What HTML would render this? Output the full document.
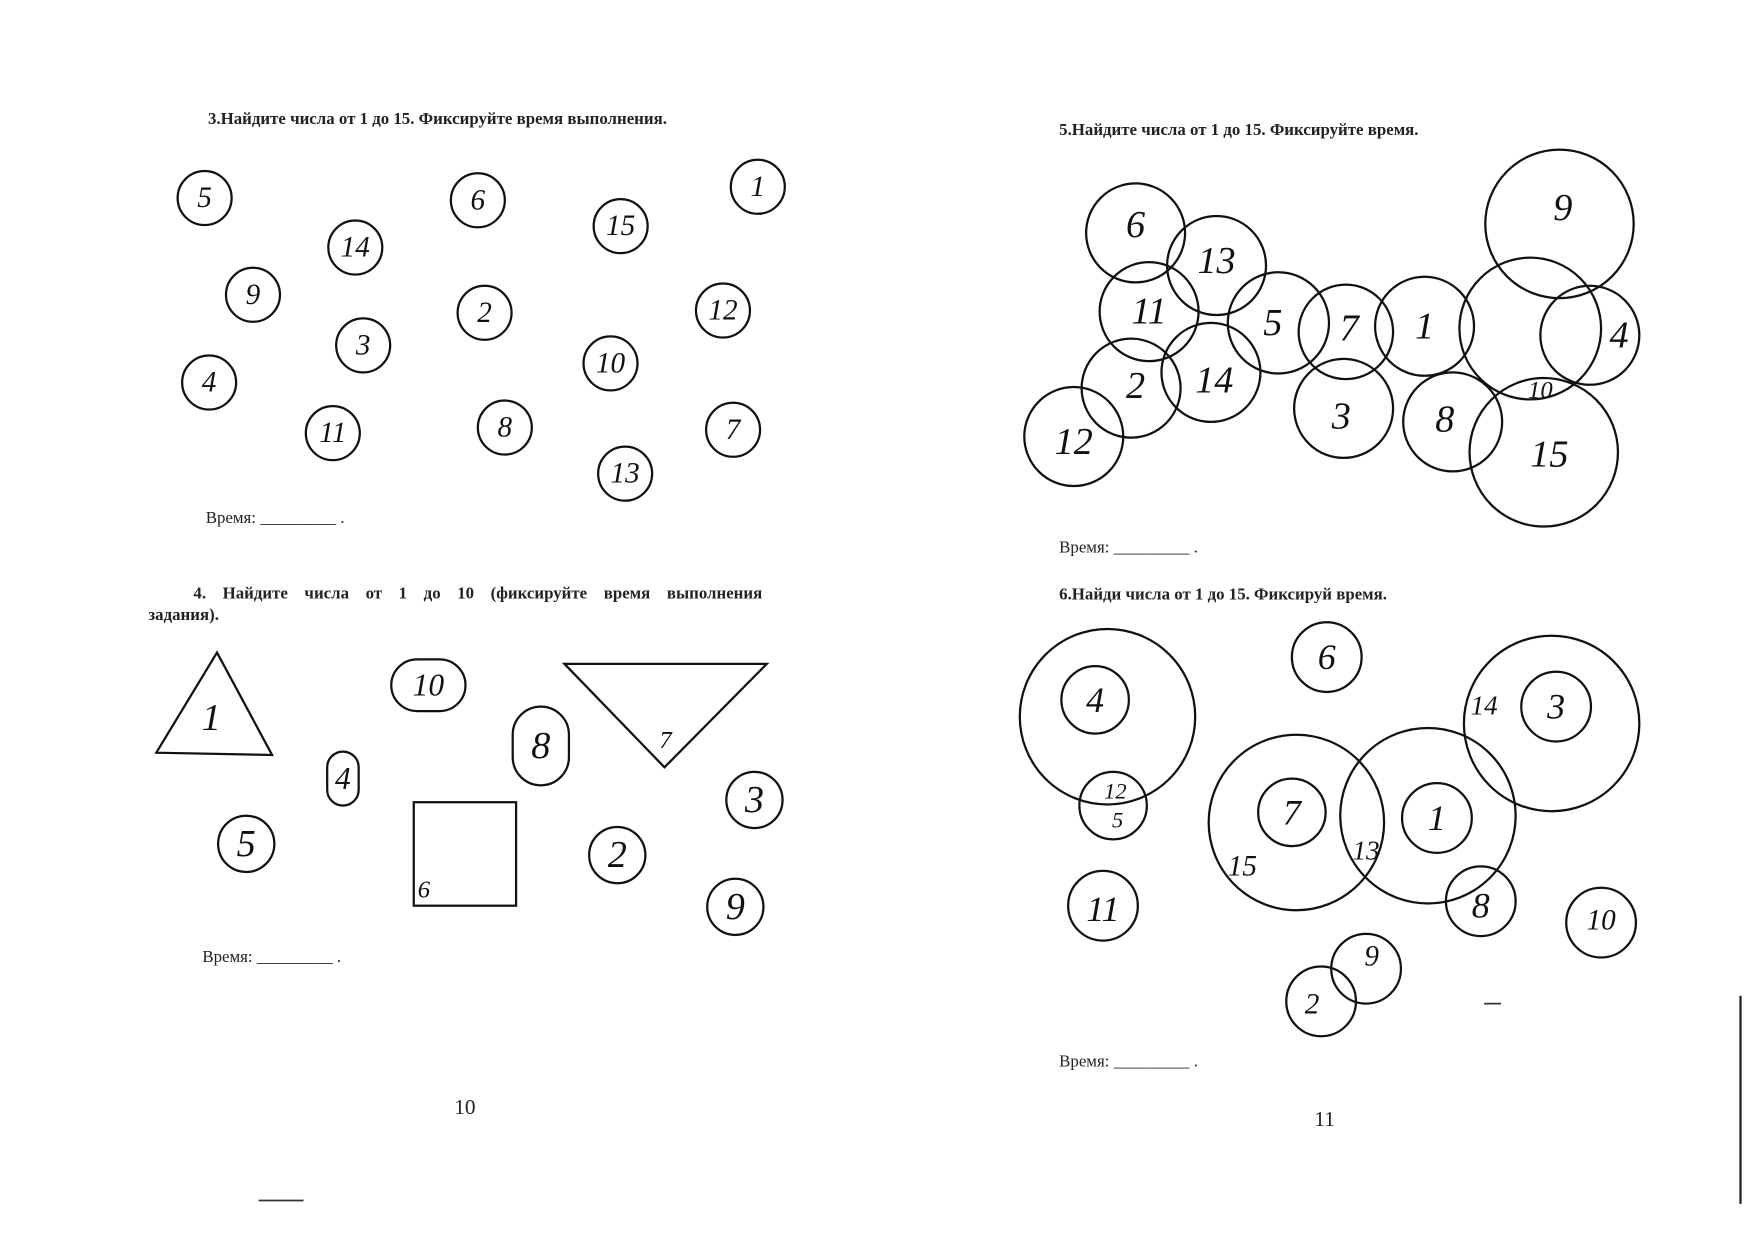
<!DOCTYPE html>
<html><head><meta charset="utf-8"><style>
html,body{margin:0;padding:0;background:#fff;}
svg{display:block;}
.t{font-family:"Liberation Serif",serif;font-size:15px;font-weight:bold;fill:#222;}
.n{font-family:"Liberation Serif",serif;font-style:italic;fill:#111;text-anchor:middle;dominant-baseline:central;}
circle,rect,polygon{fill:none;stroke:#111;stroke-width:2;}
</style></head><body>
<svg width="1754" height="1241" viewBox="0 0 1560 1103" preserveAspectRatio="none" xmlns="http://www.w3.org/2000/svg">
<text class="t" x="185" y="110">3.Найдите числа от 1 до 15. Фиксируйте время выполнения.</text>
<g font-size="26">
<circle cx="182" cy="176" r="24"/><text class="n" x="182" y="176">5</text>
<circle cx="316" cy="220" r="24"/><text class="n" x="316" y="220">14</text>
<circle cx="425" cy="178" r="24"/><text class="n" x="425" y="178">6</text>
<circle cx="552" cy="201" r="24"/><text class="n" x="552" y="201">15</text>
<circle cx="674" cy="166" r="24"/><text class="n" x="674" y="166">1</text>
<circle cx="225" cy="262" r="24"/><text class="n" x="225" y="262">9</text>
<circle cx="431" cy="278" r="24"/><text class="n" x="431" y="278">2</text>
<circle cx="643" cy="276" r="24"/><text class="n" x="643" y="276">12</text>
<circle cx="323" cy="307" r="24"/><text class="n" x="323" y="307">3</text>
<circle cx="543" cy="323" r="24"/><text class="n" x="543" y="323">10</text>
<circle cx="186" cy="340" r="24"/><text class="n" x="186" y="340">4</text>
<circle cx="296" cy="385" r="24"/><text class="n" x="296" y="385">11</text>
<circle cx="449" cy="380" r="24"/><text class="n" x="449" y="380">8</text>
<circle cx="652" cy="382" r="24"/><text class="n" x="652" y="382">7</text>
<circle cx="556" cy="421" r="24"/><text class="n" x="556" y="421">13</text>
</g>
<text class="t" x="183" y="465" style="font-weight:normal">Время: _________ .</text>
<text class="t" x="172" y="532" style="word-spacing:11px">4. Найдите числа от 1 до 10 (фиксируйте время выполнения</text>
<text class="t" x="132" y="551">задания).</text>
<g font-size="34">
<polygon points="139,669 193,580 242,671"/><text class="n" x="188" y="638">1</text>
<rect x="348" y="586" width="66" height="46" rx="23"/><text class="n" x="381" y="609" font-size="28">10</text>
<rect x="291" y="668" width="28" height="48" rx="14"/><text class="n" x="305" y="692" font-size="28">4</text>
<rect x="456" y="628" width="50" height="70" rx="25"/><text class="n" x="481" y="663">8</text>
<polygon points="502,590 682,590 591,682"/><text class="n" x="592" y="658" font-size="22">7</text>
<circle cx="219" cy="750" r="25"/><text class="n" x="219" y="750">5</text>
<rect x="368" y="713" width="91" height="92"/><text class="n" x="377" y="791" font-size="22">6</text>
<circle cx="549" cy="760" r="25"/><text class="n" x="549" y="760">2</text>
<circle cx="671" cy="711" r="25"/><text class="n" x="671" y="711">3</text>
<circle cx="654" cy="806" r="25"/><text class="n" x="654" y="806">9</text>
</g>
<text class="t" x="180" y="855" style="font-weight:normal">Время: _________ .</text>
<text class="t" x="404" y="990" style="font-weight:normal;font-size:19px">10</text>
<line x1="230" y1="1067" x2="270" y2="1067" stroke="#333" stroke-width="1.5"/>
<text class="t" x="942" y="120">5.Найдите числа от 1 до 15. Фиксируйте время.</text>
<g font-size="34">
<circle cx="1010" cy="207" r="44"/><text class="n" x="1010" y="200">6</text>
<circle cx="1082" cy="236" r="44"/><text class="n" x="1082" y="232">13</text>
<circle cx="1022" cy="277" r="44"/><text class="n" x="1022" y="277">11</text>
<circle cx="1137" cy="287" r="45"/><text class="n" x="1132" y="287">5</text>
<circle cx="1197" cy="295" r="42"/><text class="n" x="1200" y="292">7</text>
<circle cx="1267" cy="290" r="44"/><text class="n" x="1267" y="290">1</text>
<circle cx="1387" cy="199" r="66"/><text class="n" x="1390" y="185">9</text>
<circle cx="1361" cy="292" r="63"/>
<circle cx="1414" cy="298" r="44"/><text class="n" x="1440" y="298">4</text>
<circle cx="1006" cy="345" r="44"/><text class="n" x="1010" y="343">2</text>
<circle cx="1077" cy="331" r="44"/><text class="n" x="1080" y="338">14</text>
<circle cx="955" cy="388" r="44"/><text class="n" x="955" y="393">12</text>
<circle cx="1195" cy="363" r="44"/><text class="n" x="1193" y="370">3</text>
<circle cx="1292" cy="375" r="44"/><text class="n" x="1285" y="373">8</text>
<text class="n" x="1370" y="347" font-size="22">10</text>
<circle cx="1373" cy="402" r="66"/><text class="n" x="1378" y="404">15</text>
</g>
<text class="t" x="942" y="491" style="font-weight:normal">Время: _________ .</text>
<text class="t" x="942" y="533">6.Найди числа от 1 до 15. Фиксируй время.</text>
<g font-size="32">
<circle cx="985" cy="637" r="78"/>
<circle cx="974" cy="622" r="30"/><text class="n" x="974" y="622">4</text>
<circle cx="990" cy="716" r="30"/><text class="n" x="992" y="703" font-size="20">12</text><text class="n" x="994" y="729" font-size="20">5</text>
<circle cx="1180" cy="584" r="31"/><text class="n" x="1180" y="584">6</text>
<circle cx="1153" cy="731" r="78"/><text class="n" x="1105" y="770" font-size="26">15</text>
<circle cx="1149" cy="722" r="30"/><text class="n" x="1149" y="722">7</text>
<circle cx="1270" cy="725" r="78"/><text class="n" x="1215" y="756" font-size="24">13</text>
<circle cx="1278" cy="727" r="31"/><text class="n" x="1278" y="727">1</text>
<circle cx="1380" cy="643" r="78"/><text class="n" x="1320" y="627" font-size="24">14</text>
<circle cx="1384" cy="628" r="31"/><text class="n" x="1384" y="628">3</text>
<circle cx="1317" cy="801" r="31"/><text class="n" x="1317" y="805">8</text>
<circle cx="981" cy="805" r="31"/><text class="n" x="981" y="808">11</text>
<circle cx="1424" cy="820" r="31"/><text class="n" x="1424" y="818" font-size="26">10</text>
<circle cx="1215" cy="861" r="31"/><text class="n" x="1220" y="850" font-size="26">9</text>
<circle cx="1175" cy="890" r="31"/><text class="n" x="1167" y="893" font-size="26">2</text>
</g>
<text class="t" x="942" y="948" style="font-weight:normal">Время: _________ .</text>
<text class="t" x="1169" y="1001" style="font-weight:normal;font-size:19px">11</text>
<line x1="1548" y1="885" x2="1548" y2="1070" stroke="#222" stroke-width="2"/>
<line x1="1320" y1="892" x2="1335" y2="892" stroke="#333" stroke-width="1.5"/>
</svg>
</body></html>
